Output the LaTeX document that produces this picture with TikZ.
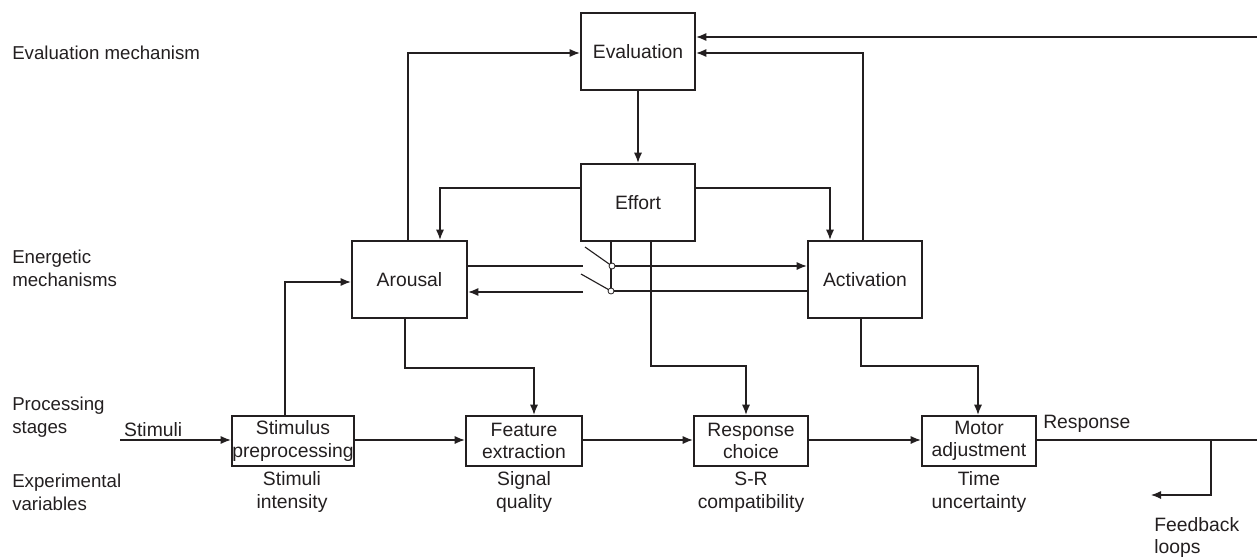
\documentclass[tikz,border=0pt]{standalone}
\usepackage{fontspec}
\setmainfont{Liberation Sans}
\usetikzlibrary{arrows.meta}
\definecolor{ink}{HTML}{231F20}
\tikzset{
  every node/.style={font=\fontsize{14.5}{17}\selectfont, text=ink},
  box/.style={draw=ink, line width=1.9pt, inner sep=0pt, align=center},
  bigbox/.style={box, minimum width=85.5pt, minimum height=57.75pt},
  smallbox/.style={box, minimum width=85.5pt, minimum height=37.5pt},
  conn/.style={draw=ink, line width=0.85pt},
  arr/.style={conn, -{Latex[length=7.5pt,width=6pt]}},
  lbl/.style={align=left, anchor=west, inner sep=0pt},
  clbl/.style={align=center, inner sep=0pt},
  pin/.style={circle, draw=ink, fill=white, line width=0.6pt, inner sep=0pt, minimum size=4.5pt}
}
\begin{document}
\begin{tikzpicture}[x=0.75pt,y=-0.75pt]
\useasboundingbox (0,0) rectangle (1257,557);

% left labels
\node[lbl, font=\fontsize{14}{17}\selectfont] (lEval) at (12,53) {Evaluation mechanism};
\node[lbl, font=\fontsize{14}{17}\selectfont] (lEner) at (12,268.5) {Energetic\\mechanisms};
\node[lbl, font=\fontsize{14}{17}\selectfont] (lProc) at (12,417) {Processing\\stages};
\node[lbl, font=\fontsize{14}{17}\selectfont] (lExp) at (12,492) {Experimental\\variables};

% boxes
\node[bigbox] (eval) at (638,51.5) {Evaluation};
\node[bigbox] (effort) at (638,202.5) {Effort};
\node[bigbox, minimum width=86.25pt] (arousal) at (409.5,279.5) {Arousal};
\node[bigbox] (activation) at (865,279.5) {Activation};
\node[smallbox, minimum width=91.5pt] (stim) at (293,441) {Stimulus\\preprocessing};
\node[smallbox, minimum width=87pt] (feat) at (524,441) {Feature\\extraction};
\node[smallbox] (resp) at (751,441) {Response\\choice};
\node[smallbox] (motor) at (979,441) {Motor\\adjustment};

% bottom labels
\node[clbl] (vStim) at (292,492) {Stimuli\\intensity};
\node[clbl] (vSig) at (524,492) {Signal\\quality};
\node[clbl] (vSR) at (751,492) {S-R\\compatibility};
\node[clbl] (vTime) at (979,492) {Time\\uncertainty};
\node[lbl, anchor=north west] (vFb) at (1154,517) {Feedback\\loops};

% helper coordinates
\coordinate (e1) at (440,188);
\coordinate (e2) at (830,188);
\coordinate (e3) at (863,53);
\coordinate (e4) at (408,53);
\coordinate (top) at (1257,37);
\coordinate (inS) at (120,440);
\coordinate (outR) at (1257,440);
\coordinate (fbx) at (1211,440);
\coordinate (fbend) at (1151,495);
\coordinate (r1) at (651,366);
\coordinate (r2) at (746,366);
\coordinate (m1) at (861,366);
\coordinate (m2) at (978,366);
\coordinate (f1) at (405,368);
\coordinate (f2) at (534,368);
\coordinate (p1) at (285,282);
\coordinate (sa) at (583,266);
\coordinate (sb) at (583,292);
\coordinate (d1) at (585,247);
\coordinate (d2) at (581,274);
\coordinate (sw1) at (612,266);
\coordinate (sw2) at (611,291);

% evaluation loops
\draw[arr] (arousal.north -| e4) |- (eval.west |- e4);
\draw[arr] (eval.south) -- (effort.north);
\draw[arr] (activation.north -| e3) |- (eval.east |- e3);
\draw[arr] (top) -- (eval.east |- top);

% effort to arousal / activation
\draw[arr] (effort.west |- e1) -| (arousal.north -| e1);
\draw[arr] (effort.east |- e2) -| (activation.north -| e2);

% switch
\draw[conn] (arousal.east |- sa) -- (sa);
\draw[arr] (sb) -- (arousal.east |- sb);
\draw[conn] (d1) -- (sw1);
\draw[conn] (d2) -- (sw2);
\draw[conn] (effort.south -| sw2) -- (sw2);
\draw[arr] (sw1) -- (activation.west |- sw1);
\draw[conn] (activation.west |- sw2) -- (sw2);
\node[pin] (pin1) at (sw1) {};
\node[pin] (pin2) at (sw2) {};

% energetic to stages
\draw[arr] (effort.south -| r1) |- (r2) -- (resp.north -| r2);
\draw[arr] (activation.south -| m1) |- (m2) -- (motor.north -| m2);
\draw[arr] (arousal.south -| f1) |- (f2) -- (feat.north -| f2);
\draw[arr] (stim.north -| p1) |- (arousal.west |- p1);

% processing chain
\draw[arr] (inS) -- node[above, pos=0.3, inner sep=2pt] (lStim) {Stimuli} (stim.west |- inS);
\draw[arr] (stim.east |- inS) -- (feat.west |- inS);
\draw[arr] (feat.east |- inS) -- (resp.west |- inS);
\draw[arr] (resp.east |- inS) -- (motor.west |- inS);
\draw[conn] (motor.east |- outR) -- (outR);
\node[lbl, anchor=south west, inner sep=0pt] (lResp) at (1043,433) {Response};
\draw[arr] (fbx) |- (fbend);
\end{tikzpicture}
\end{document}
